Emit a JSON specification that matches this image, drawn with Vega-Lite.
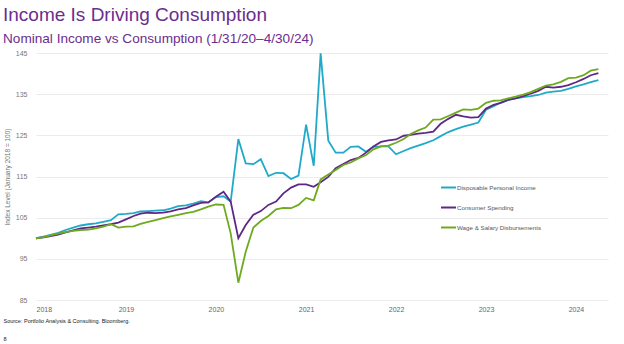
{
  "$schema": "https://vega.github.io/schema/vega-lite/v6.json",
  "width": 572,
  "height": 247,
  "autosize": {"type": "none"},
  "padding": {"left": 36, "top": 53, "right": 16, "bottom": 44},
  "background": "white",
  "title": {
    "text": "Income Is Driving Consumption",
    "subtitle": "Nominal Income vs Consumption (1/31/20–4/30/24)",
    "anchor": "start",
    "font": "Liberation Sans",
    "fontSize": 19,
    "fontWeight": "normal",
    "color": "#6b2d8e",
    "subtitleFont": "Liberation Sans",
    "subtitleFontSize": 13.6,
    "subtitleColor": "#6b2d8e",
    "subtitlePadding": 7,
    "offset": 3
  },
  "config": {"view": {"stroke": null}, "font": "Liberation Sans"},
  "data": {
    "values": [
      {"d": "2018-01", "dpi": 100.0, "cs": 100.0, "ws": 100.0},
      {"d": "2018-02", "dpi": 100.4, "cs": 100.2, "ws": 100.3},
      {"d": "2018-03", "dpi": 100.8, "cs": 100.5, "ws": 100.7},
      {"d": "2018-04", "dpi": 101.3, "cs": 100.9, "ws": 101.1},
      {"d": "2018-05", "dpi": 102.0, "cs": 101.4, "ws": 101.5},
      {"d": "2018-06", "dpi": 102.6, "cs": 101.9, "ws": 101.8},
      {"d": "2018-07", "dpi": 103.1, "cs": 102.4, "ws": 102.0},
      {"d": "2018-08", "dpi": 103.4, "cs": 102.6, "ws": 102.1},
      {"d": "2018-09", "dpi": 103.6, "cs": 102.8, "ws": 102.4},
      {"d": "2018-10", "dpi": 104.0, "cs": 103.1, "ws": 102.8},
      {"d": "2018-11", "dpi": 104.4, "cs": 103.4, "ws": 103.4},
      {"d": "2018-12", "dpi": 105.8, "cs": 103.8, "ws": 102.6},
      {"d": "2019-01", "dpi": 105.9, "cs": 104.6, "ws": 102.8},
      {"d": "2019-02", "dpi": 106.1, "cs": 105.4, "ws": 102.9},
      {"d": "2019-03", "dpi": 106.5, "cs": 106.0, "ws": 103.5},
      {"d": "2019-04", "dpi": 106.6, "cs": 106.2, "ws": 104.0},
      {"d": "2019-05", "dpi": 106.7, "cs": 106.1, "ws": 104.4},
      {"d": "2019-06", "dpi": 106.8, "cs": 106.2, "ws": 104.9},
      {"d": "2019-07", "dpi": 107.2, "cs": 106.5, "ws": 105.3},
      {"d": "2019-08", "dpi": 107.8, "cs": 107.0, "ws": 105.7},
      {"d": "2019-09", "dpi": 108.0, "cs": 107.3, "ws": 106.1},
      {"d": "2019-10", "dpi": 108.4, "cs": 108.0, "ws": 106.4},
      {"d": "2019-11", "dpi": 109.0, "cs": 108.6, "ws": 107.0},
      {"d": "2019-12", "dpi": 108.7, "cs": 108.7, "ws": 107.7},
      {"d": "2020-01", "dpi": 110.0, "cs": 110.1, "ws": 108.2},
      {"d": "2020-02", "dpi": 110.2, "cs": 111.3, "ws": 108.1},
      {"d": "2020-03", "dpi": 108.9, "cs": 108.9, "ws": 101.2},
      {"d": "2020-04", "dpi": 124.1, "cs": 100.0, "ws": 89.2},
      {"d": "2020-05", "dpi": 118.2, "cs": 103.2, "ws": 96.7},
      {"d": "2020-06", "dpi": 118.0, "cs": 105.7, "ws": 102.6},
      {"d": "2020-07", "dpi": 119.2, "cs": 106.6, "ws": 104.2},
      {"d": "2020-08", "dpi": 115.1, "cs": 108.1, "ws": 105.4},
      {"d": "2020-09", "dpi": 115.9, "cs": 108.9, "ws": 107.0},
      {"d": "2020-10", "dpi": 115.8, "cs": 110.9, "ws": 107.4},
      {"d": "2020-11", "dpi": 114.4, "cs": 112.3, "ws": 107.3},
      {"d": "2020-12", "dpi": 115.2, "cs": 113.1, "ws": 108.1},
      {"d": "2021-01", "dpi": 127.6, "cs": 113.1, "ws": 109.8},
      {"d": "2021-02", "dpi": 117.6, "cs": 112.5, "ws": 109.2},
      {"d": "2021-03", "dpi": 144.9, "cs": 113.6, "ws": 114.3},
      {"d": "2021-04", "dpi": 123.7, "cs": 114.9, "ws": 115.5},
      {"d": "2021-05", "dpi": 120.8, "cs": 117.0, "ws": 116.6},
      {"d": "2021-06", "dpi": 120.8, "cs": 118.0, "ws": 117.8},
      {"d": "2021-07", "dpi": 122.2, "cs": 119.0, "ws": 118.4},
      {"d": "2021-08", "dpi": 122.3, "cs": 119.5, "ws": 119.4},
      {"d": "2021-09", "dpi": 121.0, "cs": 120.8, "ws": 120.2},
      {"d": "2021-10", "dpi": 122.2, "cs": 122.3, "ws": 121.6},
      {"d": "2021-11", "dpi": 122.3, "cs": 123.4, "ws": 122.3},
      {"d": "2021-12", "dpi": 122.3, "cs": 123.8, "ws": 122.5},
      {"d": "2022-01", "dpi": 120.4, "cs": 124.0, "ws": 123.2},
      {"d": "2022-02", "dpi": 121.2, "cs": 124.9, "ws": 124.1},
      {"d": "2022-03", "dpi": 121.9, "cs": 125.1, "ws": 125.3},
      {"d": "2022-04", "dpi": 122.5, "cs": 125.4, "ws": 126.2},
      {"d": "2022-05", "dpi": 123.1, "cs": 125.6, "ws": 126.9},
      {"d": "2022-06", "dpi": 123.8, "cs": 125.9, "ws": 128.8},
      {"d": "2022-07", "dpi": 124.8, "cs": 127.8, "ws": 128.9},
      {"d": "2022-08", "dpi": 125.8, "cs": 129.0, "ws": 129.7},
      {"d": "2022-09", "dpi": 126.5, "cs": 130.0, "ws": 130.5},
      {"d": "2022-10", "dpi": 127.1, "cs": 129.6, "ws": 131.3},
      {"d": "2022-11", "dpi": 127.6, "cs": 129.3, "ws": 131.2},
      {"d": "2022-12", "dpi": 128.1, "cs": 129.4, "ws": 131.5},
      {"d": "2023-01", "dpi": 131.2, "cs": 131.5, "ws": 132.9},
      {"d": "2023-02", "dpi": 132.1, "cs": 132.4, "ws": 133.4},
      {"d": "2023-03", "dpi": 132.9, "cs": 132.9, "ws": 133.5},
      {"d": "2023-04", "dpi": 133.6, "cs": 133.6, "ws": 134.0},
      {"d": "2023-05", "dpi": 134.0, "cs": 134.0, "ws": 134.4},
      {"d": "2023-06", "dpi": 134.3, "cs": 134.5, "ws": 134.9},
      {"d": "2023-07", "dpi": 134.5, "cs": 135.1, "ws": 135.5},
      {"d": "2023-08", "dpi": 134.8, "cs": 135.8, "ws": 136.3},
      {"d": "2023-09", "dpi": 135.4, "cs": 136.8, "ws": 137.1},
      {"d": "2023-10", "dpi": 135.6, "cs": 136.6, "ws": 137.4},
      {"d": "2023-11", "dpi": 135.8, "cs": 136.8, "ws": 138.0},
      {"d": "2023-12", "dpi": 136.3, "cs": 137.2, "ws": 138.9},
      {"d": "2024-01", "dpi": 136.9, "cs": 137.9, "ws": 139.0},
      {"d": "2024-02", "dpi": 137.4, "cs": 138.7, "ws": 139.6},
      {"d": "2024-03", "dpi": 137.9, "cs": 139.6, "ws": 140.7},
      {"d": "2024-04", "dpi": 138.4, "cs": 140.1, "ws": 141.1}
    ]
  },
  "transform": [{"fold": ["dpi", "cs", "ws"], "as": ["series", "value"]}],
  "mark": {"type": "line", "strokeWidth": 1.8, "clip": false},
  "encoding": {
    "x": {
      "field": "d",
      "type": "temporal",
      "scale": {"type": "utc", "domain": ["2018-01-01", "2024-05-10"]},
      "axis": {
        "values": [
          {"year": 2018, "utc": true}, {"year": 2019, "utc": true}, {"year": 2020, "utc": true},
          {"year": 2021, "utc": true}, {"year": 2022, "utc": true}, {"year": 2023, "utc": true},
          {"year": 2024, "utc": true}
        ],
        "format": "%Y",
        "domain": false,
        "ticks": false,
        "grid": false,
        "labelFontSize": 7,
        "labelColor": "#666666",
        "labelPadding": 5,
        "title": ["Source: Portfolio Analysis & Consulting. Bloomberg.", "8"],
        "titleAnchor": "start",
        "titleAlign": "left",
        "titleBaseline": "middle",
        "titleX": -33,
        "titleY": 20,
        "titleFontSize": 5.5,
        "titleFontWeight": "normal",
        "titleColor": "#222222",
        "titleLineHeight": 18
      }
    },
    "y": {
      "field": "value",
      "type": "quantitative",
      "scale": {"domain": [85, 145], "nice": false, "zero": false},
      "axis": {
        "values": [85, 95, 105, 115, 125, 135, 145],
        "domain": false,
        "ticks": false,
        "grid": true,
        "gridColor": "#ebebeb",
        "gridWidth": 1,
        "labelFontSize": 7,
        "labelColor": "#777777",
        "labelPadding": 9,
        "title": "Index Level (January 2018 = 100)",
        "titleFontSize": 6.5,
        "titleFontWeight": "normal",
        "titleColor": "#777777",
        "titlePadding": 5
      }
    },
    "color": {
      "field": "series",
      "type": "nominal",
      "scale": {"domain": ["dpi", "cs", "ws"], "range": ["#20aac8", "#5f2887", "#6eaa1e"]},
      "legend": {
        "orient": "none",
        "legendX": 404,
        "legendY": 126,
        "direction": "vertical",
        "title": null,
        "symbolType": "stroke",
        "symbolSize": 225,
        "symbolStrokeWidth": 2,
        "labelFontSize": 6.2,
        "labelColor": "#555555",
        "labelOffset": 0,
        "rowPadding": 7,
        "labelExpr": "datum.value == 'dpi' ? 'Disposable Personal Income' : datum.value == 'cs' ? 'Consumer Spending' : 'Wage & Salary Disbursements'"
      }
    }
  }
}
